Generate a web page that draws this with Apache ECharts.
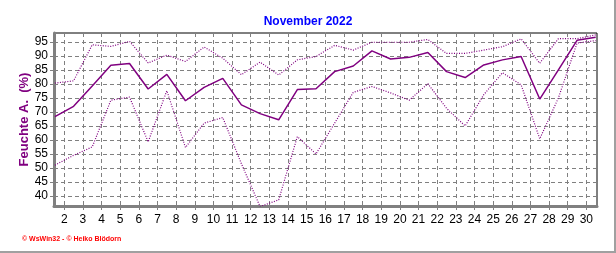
<!DOCTYPE html>
<html><head><meta charset="utf-8">
<script src="https://cdn.jsdelivr.net/npm/echarts@6/dist/echarts.min.js"></script>
<style>html,body{margin:0;padding:0;background:#fff}#c{width:616px;height:253px}</style>
</head><body><div id="c"></div>
<script>
// Day numbers (1..30), plotted at the centre of each day
const days = [1,2,3,4,5,6,7,8,9,10,11,12,13,14,15,16,17,18,19,20,21,22,23,24,25,26,27,28,29,30];
const meanHum = [68.3,72.0,79.3,86.7,87.3,78.2,83.4,74.0,78.8,82.0,72.5,69.4,67.2,78.0,78.3,84.4,86.4,91.8,88.9,89.5,91.2,84.4,82.3,86.8,88.6,89.8,74.6,85.0,95.6,96.7];
const maxHum = [80.3,81.1,94.0,93.4,95.2,87.5,90.3,88.0,93.2,89.2,83.3,87.8,83.2,88.6,89.8,93.8,92.1,94.9,94.9,94.9,95.9,90.9,90.9,92.1,93.3,96.1,87.4,96.2,96.2,97.5];
const minHum = [51.0,54.5,57.5,74.2,75.3,59.3,77.6,57.3,66.0,68.0,51.5,36.2,38.6,61.2,55.0,66.0,77.0,79.1,76.8,74.2,80.1,71.3,65.0,76.2,84.0,79.7,60.4,75.0,94.6,95.5];
const xTicks = [2,3,4,5,6,7,8,9,10,11,12,13,14,15,16,17,18,19,20,21,22,23,24,25,26,27,28,29,30];
const yTicks = [40,45,50,55,60,65,70,75,80,85,90,95];

const pts = arr => arr.map((v,i)=>[days[i]+0.5, v]);
const purple = '#800080';
const chart = echarts.init(document.getElementById('c'), null, {renderer:'canvas'});
chart.setOption({
  animation:false,
  title:{text:'November 2022', left:'center', top:11, textStyle:{color:'#0000ff', fontSize:12, fontWeight:'bold', fontFamily:'Liberation Sans'}},
  grid:{left:54, right:19, top:33, bottom:47, show:true, borderColor:'#000', borderWidth:1},
  xAxis:{type:'value', min:1.45, max:30.57,
    axisLine:{show:true, onZero:false, lineStyle:{color:'#808080', width:3}},
    axisTick:{show:true, customValues:xTicks, length:4, lineStyle:{color:'#808080'}},
    axisLabel:{customValues:xTicks, color:'#000', fontSize:12, fontFamily:'Liberation Sans', margin:8},
    splitLine:{show:true, lineStyle:{color:'#808080', type:[4,3], width:1}}
  },
  yAxis:{type:'value', min:36.4, max:98.2,
    name:'Feuchte A.  (%)', nameLocation:'middle', nameGap:23, nameMoveOverlap:false,
    nameTextStyle:{color:purple, fontSize:13, fontWeight:'bold', fontFamily:'Liberation Sans'},
    axisLine:{show:true, lineStyle:{color:'#808080', width:3}},
    axisTick:{show:true, customValues:yTicks, length:4, lineStyle:{color:'#808080'}},
    axisLabel:{customValues:yTicks, color:'#000', fontSize:12, fontFamily:'Liberation Sans', margin:6},
    splitLine:{show:true, lineStyle:{color:'#808080', type:[4,3], width:1}}
  },
  series:[
    {type:'line', data:pts(maxHum), symbol:'none', lineStyle:{color:purple, width:1.2, type:[1,1.5]}},
    {type:'line', data:pts(minHum), symbol:'none', lineStyle:{color:purple, width:1.2, type:[1,1.5]}},
    {type:'line', data:pts(meanHum), symbol:'none', lineStyle:{color:purple, width:1.5}}
  ],
  graphic:[
    {type:'text', left:22, top:236, style:{text:'© WsWin32 - © Heiko Blödorn', fill:'#ff0000', font:'bold 7px "Liberation Sans"'}},
    {type:'rect', shape:{x:614, y:0, width:2, height:253}, style:{fill:'#a0a0a0'}},
    {type:'rect', shape:{x:0, y:251, width:616, height:2}, style:{fill:'#a0a0a0'}}
  ]
});
</script></body></html>
